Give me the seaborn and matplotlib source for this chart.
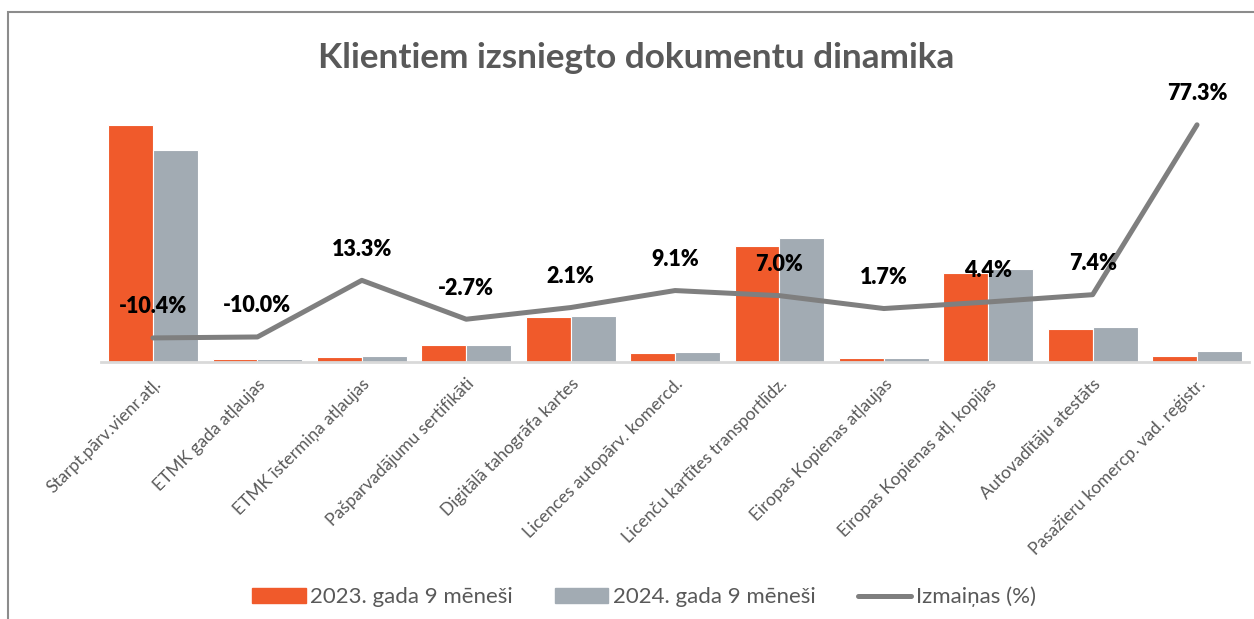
import numpy as np
import pandas as pd
import matplotlib
matplotlib.use('Agg')
import matplotlib.pyplot as plt
import matplotlib.patches as mpatches
from matplotlib.lines import Line2D
import seaborn as sns

# Data
categories = ['Starpt.pārv.vienr.atļ.', 'ETMK gada atļaujas', 'ETMK īstermiņa atļaujas',
              'Pašparvadājumu sertifikāti', 'Digitālā tahogrāfa kartes',
              'Licences autopārv. komercd.', 'Licenču kartītes transportlīdz.',
              'Eiropas Kopienas atļaujas', 'Eiropas Kopienas atļ. kopijas',
              'Autovadītāju atestāts', 'Pasažieru komercp. vad. reģistr.']
values_2023 = [23700, 300, 500, 1700, 4500, 900, 11600, 400, 8900, 3300, 600]
values_2024 = [21235, 270, 567, 1654, 4595, 982, 12412, 407, 9292, 3544, 1064]
change_pct = [-10.4, -10.0, 13.3, -2.7, 2.1, 9.1, 7.0, 1.7, 4.4, 7.4, 77.3]
series_names = ['2023. gada 9 mēneši', '2024. gada 9 mēneši']
line_name = 'Izmaiņas (%)'
title = 'Klientiem izsniegto dokumentu dinamika'

orange = '#F05A2B'
grey = '#A2ABB3'
line_grey = '#7F7F7F'
text_grey = '#595959'

df = pd.DataFrame({
    'kategorija': categories * 2,
    'vertiba': values_2023 + values_2024,
    'periods': [series_names[0]] * len(categories) + [series_names[1]] * len(categories),
})

sns.set_style('white')
plt.rcParams['font.family'] = ['Lato', 'DejaVu Sans']

fig = plt.figure(figsize=(12.54, 6.19), dpi=100)
ax = fig.add_axes([0.0804, 0.4152, 0.9158, 0.4071])

sns.barplot(data=df, x='kategorija', y='vertiba', hue='periods',
            palette=[orange, grey], saturation=1, width=0.86,
            edgecolor='white', linewidth=0.8, legend=False, ax=ax)
ax.set_ylim(0, 25200)
ax.set_xlabel('')
ax.set_ylabel('')
ax.set_yticks([])
for s in ['top', 'right', 'left']:
    ax.spines[s].set_visible(False)
ax.spines['bottom'].set_color('#D9D9D9')
ax.spines['bottom'].set_linewidth(2)
ax.tick_params(axis='x', length=0, pad=10)
ax.set_xticks(range(len(categories)))
ax.set_xticklabels(categories, rotation=45, ha='right', va='top', rotation_mode='anchor',
                   fontsize=12.5, color=text_grey)

ax2 = ax.twinx()
x_pos = np.arange(len(categories))
sns.lineplot(x=x_pos, y=change_pct, color=line_grey, linewidth=3.6, ax=ax2,
             solid_capstyle='round')
ax2.set_ylim(-20.3, 83.4)
ax2.set_xlim(-0.5, len(categories) - 0.5)
ax2.set_yticks([])
ax2.set_ylabel('')
for s in ax2.spines.values():
    s.set_visible(False)
for xi, v in zip(x_pos, change_pct):
    ax2.annotate(f'{v:.1f}%', (xi, v), xytext=(0, 31), textcoords='offset pixels',
                 ha='center', va='center', fontsize=15.5, fontweight='heavy', color='black')

fig.text(0.507, 0.907, title, ha='center', va='center', fontsize=25.3,
         fontweight='bold', color=text_grey)

handles = [mpatches.Patch(color=orange), mpatches.Patch(color=grey),
           Line2D([0], [0], color=line_grey, linewidth=3.6, solid_capstyle='round')]
fig.legend(handles, series_names + [line_name], loc='center',
           bbox_to_anchor=(644 / 1254, 0.0355), ncol=3, frameon=False,
           fontsize=16, labelcolor=text_grey, handlelength=2.4, handleheight=0.6,
           handletextpad=0.2, columnspacing=1.9)

# chart frame
fig.add_artist(mpatches.Rectangle((8 / 1254, -0.2), 1.2, 1.2 - 12 / 619,
                                  transform=fig.transFigure, fill=False,
                                  edgecolor='#8C8C8C', linewidth=1.5))

fig.savefig('out.png', dpi=100)
